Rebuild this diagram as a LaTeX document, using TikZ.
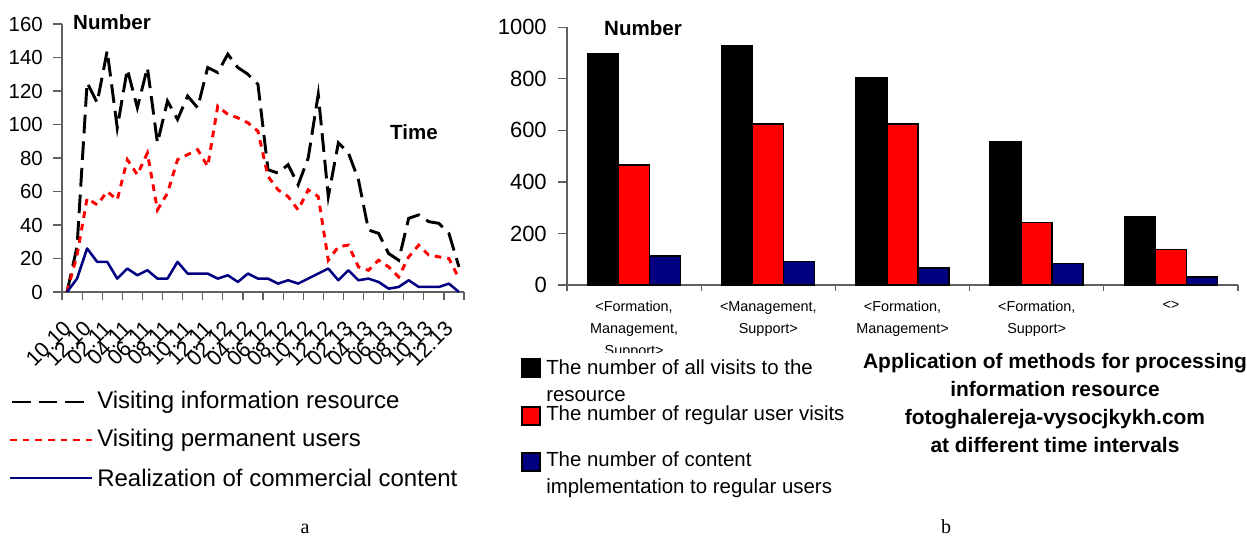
\documentclass[tikz,border=0pt]{standalone}
\usepackage{tikz}
\usepackage{xcolor}
\usepackage{fontspec}
\setmainfont{Liberation Sans}
\newfontfamily\subfigfont{Liberation Serif}

\begin{document}
\begin{tikzpicture}[x=0.75pt,y=0.75pt,yscale=-1,xscale=1,
  axisline/.style={color={rgb, 255:red, 96; green, 96; blue, 96 }, line width=0.9},
  visitline/.style={color={rgb, 255:red, 0; green, 0; blue, 0 }, line width=2.2, dash pattern=on 14pt off 6pt},
  userline/.style={color={rgb, 255:red, 255; green, 0; blue, 0 }, line width=2.2, dash pattern=on 5pt off 4.5pt},
  contentline/.style={color={rgb, 255:red, 0; green, 0; blue, 128 }, line width=1.9, line join=round},
  barall/.style={draw={rgb, 255:red, 0; green, 0; blue, 0 }, fill={rgb, 255:red, 0; green, 0; blue, 0 }, line width=1.1},
  barregular/.style={draw={rgb, 255:red, 0; green, 0; blue, 0 }, fill={rgb, 255:red, 255; green, 0; blue, 0 }, line width=1.1},
  barcontent/.style={draw={rgb, 255:red, 0; green, 0; blue, 0 }, fill={rgb, 255:red, 0; green, 0; blue, 128 }, line width=1.1},
  valuelabel/.style={anchor=east, inner sep=0.75pt, font=\fontsize{15.3}{18}\selectfont},
  bigvaluelabel/.style={anchor=east, inner sep=0.75pt, font=\fontsize{16.5}{19}\selectfont},
  datelabel/.style={anchor=east, rotate=45, inner sep=0.75pt, font=\fontsize{16}{18}\selectfont},
  grouplabel/.style={anchor=north, inner sep=0.75pt, align=center, font=\fontsize{10.8}{16.5}\selectfont},
  axistitle/.style={inner sep=0.75pt, font=\fontsize{15.4}{18}\selectfont\bfseries},
  seriestext/.style={anchor=west, inner sep=0.75pt, font=\fontsize{18}{22}\selectfont},
  bartext/.style={anchor=west, inner sep=0.75pt, align=left, font=\fontsize{15.3}{20.25}\selectfont},
  swatch/.style={draw={rgb, 255:red, 0; green, 0; blue, 0 }, line width=1}
]
\useasboundingbox (0,0) rectangle (1247,539);

%%%%%%%%%%%%%%%%%%%% chart a %%%%%%%%%%%%%%%%%%%%

%Straight Lines (axes)
\draw [axisline] (62,24) -- (62,292) -- (464,292) ;
\draw [axisline] (53,24) -- (62,24) (53,57.5) -- (62,57.5) (53,91) -- (62,91) (53,124.5) -- (62,124.5) (53,158) -- (62,158) (53,191.5) -- (62,191.5) (53,225) -- (62,225) (53,258.5) -- (62,258.5) (53,292) -- (62,292) ;
\draw [axisline] (62,292) -- (62,300) (82.1,292) -- (82.1,300) (102.2,292) -- (102.2,300) (122.3,292) -- (122.3,300) (142.4,292) -- (142.4,300) (162.5,292) -- (162.5,300) (182.6,292) -- (182.6,300) (202.7,292) -- (202.7,300) (222.8,292) -- (222.8,300) (242.9,292) -- (242.9,300) (263,292) -- (263,300) (283.1,292) -- (283.1,300) (303.2,292) -- (303.2,300) (323.3,292) -- (323.3,300) (343.4,292) -- (343.4,300) (363.5,292) -- (363.5,300) (383.6,292) -- (383.6,300) (403.7,292) -- (403.7,300) (423.8,292) -- (423.8,300) (443.9,292) -- (443.9,300) (464,292) -- (464,300) ;

%Series (month index, value)
\begin{scope}[shift={(67,292)}, xscale=10.05, yscale=-1.675]
\draw [visitline] (0,0) -- (1,27) -- (2,125) -- (3,113) -- (4,144) -- (5,98) -- (6,133) -- (7,110) -- (8,134) -- (9,89) -- (10,114) -- (11,103) -- (12,117) -- (13,110) -- (14,134) -- (15,131) -- (16,142) -- (17,134) -- (18,130) -- (19,124) -- (20,73) -- (21,71) -- (22,76) -- (23,64) -- (24,80) -- (25,118) -- (26,57) -- (27,89) -- (28,83) -- (29,67) -- (30,37) -- (31,35) -- (32,23) -- (33,19) -- (34,44) -- (35,46) -- (36,42) -- (37,41) -- (38,35) -- (39,15) ;
\draw [userline] (0,0) -- (1,22) -- (2,56) -- (3,52) -- (4,60) -- (5,55) -- (6,79) -- (7,70) -- (8,83) -- (9,49) -- (10,59) -- (11,79) -- (12,82) -- (13,85) -- (14,75) -- (15,111) -- (16,106) -- (17,104) -- (18,101) -- (19,96) -- (20,69) -- (21,61) -- (22,57) -- (23,49) -- (24,61) -- (25,57) -- (26,19) -- (27,27) -- (28,28) -- (29,15) -- (30,13) -- (31,19) -- (32,15) -- (33,9) -- (34,21) -- (35,28) -- (36,22) -- (37,21) -- (38,20) -- (39,8) ;
\draw [contentline] (0,0) -- (1,8) -- (2,26) -- (3,18) -- (4,18) -- (5,8) -- (6,14) -- (7,10) -- (8,13) -- (9,8) -- (10,8) -- (11,18) -- (12,11) -- (13,11) -- (14,11) -- (15,8) -- (16,10) -- (17,6) -- (18,11) -- (19,8) -- (20,8) -- (21,5) -- (22,7) -- (23,5) -- (24,8) -- (25,11) -- (26,14) -- (27,7) -- (28,13) -- (29,7) -- (30,8) -- (31,6) -- (32,2) -- (33,3) -- (34,7) -- (35,3) -- (36,3) -- (37,3) -- (38,5) -- (39,0) ;
\end{scope}

% Text Node
\draw (44,292) node (yA0) [valuelabel] {0};
\draw (44,258.5) node (yA20) [valuelabel] {20};
\draw (44,225) node (yA40) [valuelabel] {40};
\draw (44,191.5) node (yA60) [valuelabel] {60};
\draw (44,158) node (yA80) [valuelabel] {80};
\draw (44,124.5) node (yA100) [valuelabel] {100};
\draw (44,91) node (yA120) [valuelabel] {120};
\draw (44,57.5) node (yA140) [valuelabel] {140};
\draw (44,24) node (yA160) [valuelabel] {160};
% Text Node
\draw (112,22) node (numberA) [axistitle] {Number};
\draw (414,132) node (timeA) [axistitle] {Time};
% Text Node (dates)
\draw (68,324) node (dA1) [datelabel] {10.10};
\draw (88.1,324) node (dA2) [datelabel] {12.10};
\draw (108.2,324) node (dA3) [datelabel] {02.11};
\draw (128.3,324) node (dA4) [datelabel] {04.11};
\draw (148.4,324) node (dA5) [datelabel] {06.11};
\draw (168.5,324) node (dA6) [datelabel] {08.11};
\draw (188.6,324) node (dA7) [datelabel] {10.11};
\draw (208.7,324) node (dA8) [datelabel] {12.11};
\draw (228.8,324) node (dA9) [datelabel] {02.12};
\draw (248.9,324) node (dA10) [datelabel] {04.12};
\draw (269,324) node (dA11) [datelabel] {06.12};
\draw (289.1,324) node (dA12) [datelabel] {08.12};
\draw (309.2,324) node (dA13) [datelabel] {10.12};
\draw (329.3,324) node (dA14) [datelabel] {12.12};
\draw (349.4,324) node (dA15) [datelabel] {02.13};
\draw (369.5,324) node (dA16) [datelabel] {04.13};
\draw (389.6,324) node (dA17) [datelabel] {06.13};
\draw (409.7,324) node (dA18) [datelabel] {08.13};
\draw (429.8,324) node (dA19) [datelabel] {10.13};
\draw (449.9,324) node (dA20) [datelabel] {12.13};

%Legend a
\draw [visitline] (12,402) -- (88,402) ;
\draw [userline] (10,440) -- (92,440) ;
\draw [contentline] (10,478) -- (92,478) ;
% Text Node
\draw (96,402) node (legVisit) [seriestext] {Visiting information resource};
\draw (96,440) node (legUsers) [seriestext] {Visiting permanent users};
\draw (96,478) node (legContent) [seriestext] {Realization of commercial content};
% Text Node
\draw (305,529) node (capA) [inner sep=0.75pt, font=\subfigfont\fontsize{15}{18}\selectfont] {a};

%%%%%%%%%%%%%%%%%%%% chart b %%%%%%%%%%%%%%%%%%%%

%Straight Lines (axes)
\draw [axisline] (567,27.3) -- (567,285) -- (1238,285) ;
\draw [axisline] (558,27.3) -- (567,27.3) (558,78.8) -- (567,78.8) (558,130.4) -- (567,130.4) (558,181.9) -- (567,181.9) (558,233.5) -- (567,233.5) (558,285) -- (567,285) ;
\draw [axisline] (567,285) -- (567,291) (701.2,285) -- (701.2,291) (835.4,285) -- (835.4,291) (969.6,285) -- (969.6,291) (1103.8,285) -- (1103.8,291) (1238,285) -- (1238,291) ;

%Shape: Rectangle (bars)
\draw [barall] (587.5,285) rectangle (618.5,53.8) ;
\draw [barregular] (618.5,285) rectangle (649.5,164.9) ;
\draw [barcontent] (649.5,285) rectangle (680.5,256.1) ;
\draw [barall] (721.7,285) rectangle (752.7,45.9) ;
\draw [barregular] (752.7,285) rectangle (783.7,124.2) ;
\draw [barcontent] (783.7,285) rectangle (814.7,261.3) ;
\draw [barall] (855.9,285) rectangle (886.9,78.1) ;
\draw [barregular] (886.9,285) rectangle (917.9,124.2) ;
\draw [barcontent] (917.9,285) rectangle (948.9,268.2) ;
\draw [barall] (990.1,285) rectangle (1021.1,141.7) ;
\draw [barregular] (1021.1,285) rectangle (1052.1,222.6) ;
\draw [barcontent] (1052.1,285) rectangle (1083.1,263.4) ;
\draw [barall] (1124.3,285) rectangle (1155.3,216.7) ;
\draw [barregular] (1155.3,285) rectangle (1186.3,249.4) ;
\draw [barcontent] (1186.3,285) rectangle (1217.3,276.8) ;

% Text Node
\draw (548,285) node (yB0) [bigvaluelabel] {0};
\draw (548,233.5) node (yB200) [bigvaluelabel] {200};
\draw (548,181.9) node (yB400) [bigvaluelabel] {400};
\draw (548,130.4) node (yB600) [bigvaluelabel] {600};
\draw (548,78.8) node (yB800) [bigvaluelabel] {800};
\draw (548,27.3) node (yB1000) [bigvaluelabel] {1000};
% Text Node
\draw (643,28) node (numberB) [axistitle] {Number};

% Text Node (groups, cut off above the legend)
\begin{scope}
\clip (560,293) rectangle (1247,352);
\draw (634.1,300) node (gFMS) [grouplabel] {<Formation,\\Management,\\Support>};
\draw (768.3,300) node (gMS) [grouplabel] {<Management,\\Support>};
\draw (902.5,300) node (gFM) [grouplabel] {<Formation,\\Management>};
\draw (1036.7,300) node (gFS) [grouplabel] {<Formation,\\Support>};
\draw (1170.9,300) node (gNone) [grouplabel] {<>};
\end{scope}

%Legend b
\draw [swatch, fill={rgb, 255:red, 0; green, 0; blue, 0 }] (522,359) rectangle (540,377) ;
\draw [swatch, fill={rgb, 255:red, 255; green, 0; blue, 0 }] (522,407) rectangle (540,425) ;
\draw [swatch, fill={rgb, 255:red, 0; green, 0; blue, 128 }] (522,453) rectangle (540,471) ;
% Text Node
\draw (545,381) node (legAll) [bartext] {The number of all visits to the\\resource};
\draw (545,415) node (legRegular) [bartext] {The number of regular user visits};
\draw (545,475) node (legImpl) [bartext] {The number of content\\implementation to regular users};
% Text Node
\draw (1055,403) node (titleB) [inner sep=0.75pt, align=center, font=\fontsize{15.7}{21}\selectfont\bfseries] {Application of methods for processing\\information resource\\fotoghalereja-vysocjkykh.com\\at different time intervals};
% Text Node
\draw (946,527) node (capB) [inner sep=0.75pt, font=\subfigfont\fontsize{15}{18}\selectfont] {b};

\end{tikzpicture}
\end{document}
